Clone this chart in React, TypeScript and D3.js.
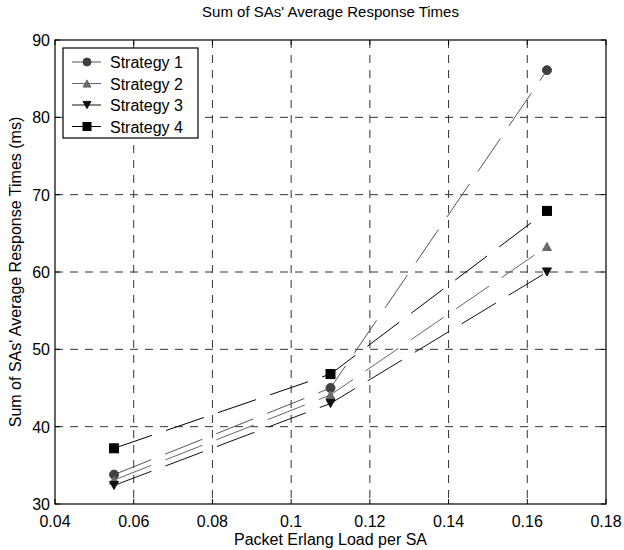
import React from "react";
import * as d3 from "d3";

const loads = [0.055, 0.11, 0.165];
const strategy1 = [33.8, 45.0, 86.1];
const strategy2 = [33.1, 44.1, 63.3];
const strategy3 = [32.4, 43.0, 60.0];
const strategy4 = [37.2, 46.8, 67.9];
const seriesNames = ["Strategy 1", "Strategy 2", "Strategy 3", "Strategy 4"];
const xTicks = [0.04, 0.06, 0.08, 0.1, 0.12, 0.14, 0.16, 0.18];
const yTicks = [30, 40, 50, 60, 70, 80, 90];

const W = 624, H = 550;
const M = { left: 55, right: 606, top: 40, bottom: 504 };
const FONT = "'Liberation Sans', Arial, Helvetica, sans-serif";

type Sym = "circle" | "up" | "down" | "square";

function Marker({ x, y, sym, fill, s }: { x: number; y: number; sym: Sym; fill: string; s: number }) {
  if (sym === "circle") return <circle cx={x} cy={y} r={s / 2} fill={fill} stroke={fill} />;
  if (sym === "square")
    return <rect x={x - s / 2} y={y - s / 2} width={s} height={s} fill={fill} stroke={fill} />;
  const h = s * 0.9;
  const pts =
    sym === "up"
      ? [[x, y - h / 2], [x - s / 2, y + h / 2], [x + s / 2, y + h / 2]]
      : [[x, y + h / 2], [x - s / 2, y - h / 2], [x + s / 2, y - h / 2]];
  return <polygon points={pts.map((p) => p.join(",")).join(" ")} fill={fill} stroke={fill} />;
}

export default function App() {
  const x = d3.scaleLinear().domain([0.04, 0.18]).range([M.left, M.right]);
  const y = d3.scaleLinear().domain([30, 90]).range([M.bottom, M.top]);
  const series = [
    { name: seriesNames[0], values: strategy1, sym: "circle" as Sym, line: "#555", fill: "#404040" },
    { name: seriesNames[1], values: strategy2, sym: "up" as Sym, line: "#666", fill: "#6a6a6a" },
    { name: seriesNames[2], values: strategy3, sym: "down" as Sym, line: "#111", fill: "#111" },
    { name: seriesNames[3], values: strategy4, sym: "square" as Sym, line: "#000", fill: "#000" },
  ];
  const line = d3
    .line<number>()
    .x((_, i) => x(loads[i]))
    .y((d) => y(d));
  const tl = 5;
  const legX = 63, legY = 48, legW = 135, rowH = 21.5;

  return (
    <svg width={W} height={H} style={{ position: "absolute", left: 0, top: 0, background: "#fff" }} fontFamily={FONT}>
      <rect x={0} y={0} width={W} height={H} fill="#fff" />
      {xTicks.slice(1, -1).map((t) => (
        <line key={"gx" + t} x1={x(t)} x2={x(t)} y1={M.top} y2={M.bottom} stroke="#333" strokeDasharray="8,7" />
      ))}
      {yTicks.slice(1, -1).map((t) => (
        <line key={"gy" + t} x1={M.left} x2={M.right} y1={y(t)} y2={y(t)} stroke="#333" strokeDasharray="8,7" />
      ))}
      {xTicks.map((t) => (
        <g key={"tx" + t}>
          <line x1={x(t)} x2={x(t)} y1={M.bottom} y2={M.bottom - tl} stroke="#000" />
          <line x1={x(t)} x2={x(t)} y1={M.top} y2={M.top + tl} stroke="#000" />
          <text x={x(t)} y={527} textAnchor="middle" fontSize={16}>
            {String(t)}
          </text>
        </g>
      ))}
      {yTicks.map((t) => (
        <g key={"ty" + t}>
          <line x1={M.left} x2={M.left + tl} y1={y(t)} y2={y(t)} stroke="#000" />
          <line x1={M.right} x2={M.right - tl} y1={y(t)} y2={y(t)} stroke="#000" />
          <text x={M.left - 5} y={y(t) + 6} textAnchor="end" fontSize={16}>
            {t}
          </text>
        </g>
      ))}
      {series.map((s) => (
        <path key={"l" + s.name} d={line(s.values) || ""} fill="none" stroke={s.line} strokeWidth={1} strokeDasharray="40,15" />
      ))}
      {series.map((s) =>
        s.values.map((v, i) => (
          <Marker key={s.name + i} x={x(loads[i])} y={y(v)} sym={s.sym} fill={s.fill} s={9} />
        ))
      )}
      <rect x={M.left} y={M.top} width={M.right - M.left} height={M.bottom - M.top} fill="none" stroke="#000" strokeWidth={1.2} />
      <rect x={legX} y={legY} width={legW} height={rowH * 4 + 4} fill="#fff" stroke="#000" strokeWidth={1.2} />
      {series.map((s, i) => {
        const cy = legY + 14 + i * rowH;
        return (
          <g key={"lg" + s.name}>
            <line x1={72} x2={101} y1={cy} y2={cy} stroke={s.line} />
            <Marker x={87} y={cy} sym={s.sym} fill={s.fill} s={8} />
            <text x={110} y={cy + 6} fontSize={16}>
              {s.name}
            </text>
          </g>
        );
      })}
      <text x={(M.left + M.right) / 2} y={17} textAnchor="middle" fontSize={15}>
        Sum of SAs' Average Response Times
      </text>
      <text x={(M.left + M.right) / 2} y={545} textAnchor="middle" fontSize={16}>
        Packet Erlang Load per SA
      </text>
      <text
        transform={`translate(21, ${(M.top + M.bottom) / 2}) rotate(-90)`}
        textAnchor="middle"
        fontSize={16}
      >
        Sum of SAs' Average Response Times (ms)
      </text>
    </svg>
  );
}
